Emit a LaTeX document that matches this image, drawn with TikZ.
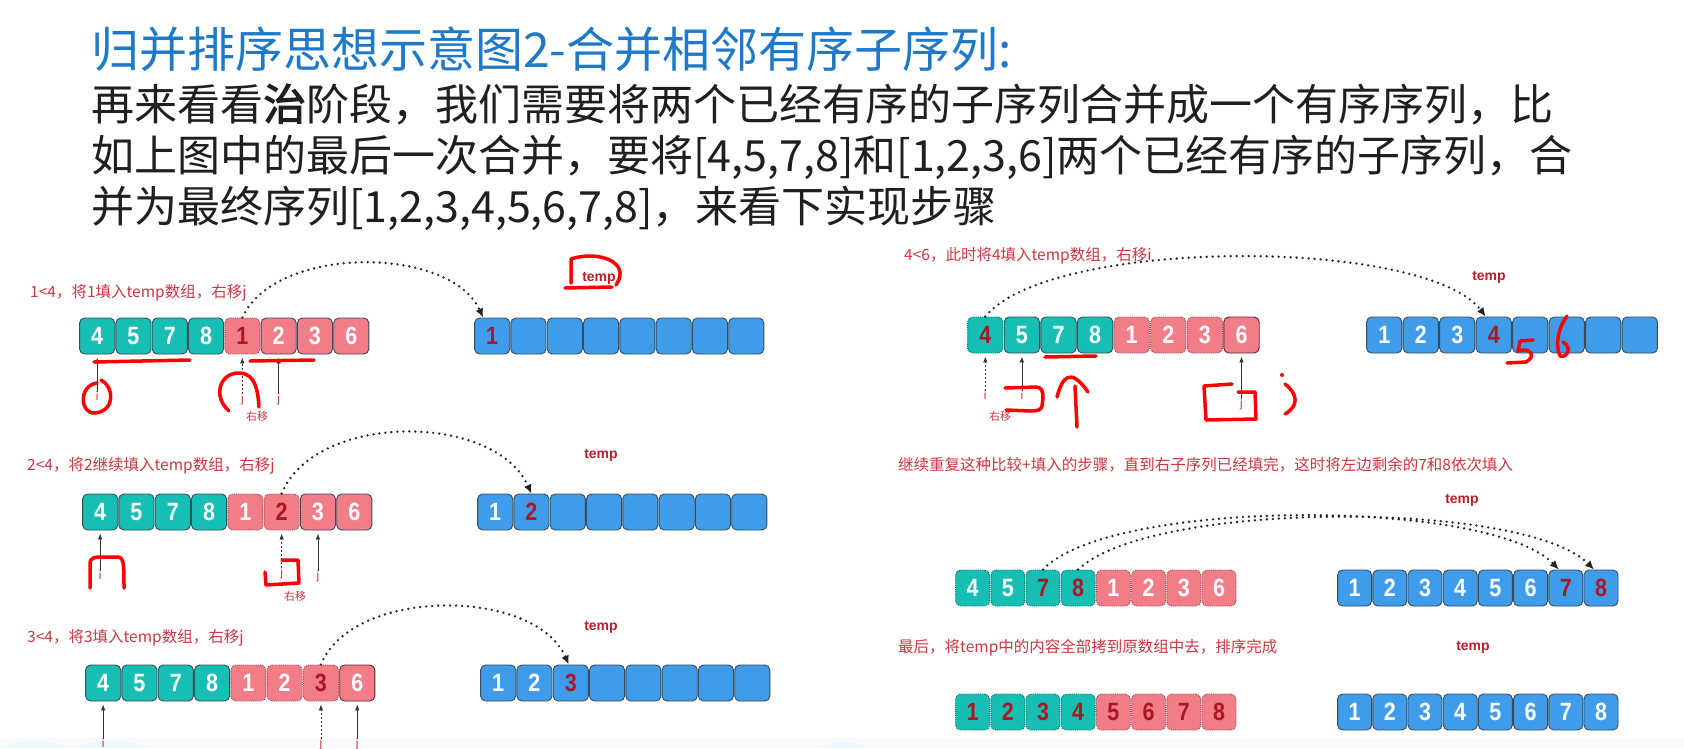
\documentclass[tikz,border=0pt]{standalone}
\usepackage{fontspec}
\newfontfamily\cjk{Noto Sans CJK SC}
\newfontfamily\cjkb[FakeBold=2.5]{Noto Sans CJK SC}
\newfontfamily\lat{Liberation Sans}
\newfontfamily\numf[FakeStretch=0.86]{Liberation Sans}
\usetikzlibrary{arrows.meta}
\definecolor{tealc}{RGB}{22,190,180}
\definecolor{pinkc}{RGB}{242,124,135}
\definecolor{bluec}{RGB}{62,156,234}
\definecolor{numred}{RGB}{170,22,35}
\definecolor{labred}{RGB}{205,55,65}
\definecolor{tmpred}{RGB}{190,30,40}
\definecolor{titleblue}{RGB}{30,122,200}
\definecolor{cellline}{RGB}{60,75,85}
\definecolor{arcc}{RGB}{35,35,35}
\tikzset{
  cell/.style={draw=cellline, line width=0.9pt, rounded corners=5pt, minimum height=36pt,
    inner sep=0pt, text=white, font=\fontsize{25}{25}\numf\bfseries},
  tl/.style={cell, fill=tealc},
  tld/.style={tl, draw=tealc!55!black, densely dotted},
  tlx/.style={tld, text=numred},
  pk/.style={cell, fill=pinkc},
  pkd/.style={pk, draw=pinkc!60!black, densely dotted},
  pkx/.style={pkd, text=numred},
  pkb/.style={pk, draw=pinkc!35!black},
  bl/.style={cell, fill=bluec},
  blx/.style={bl, text=numred},
  lab/.style={anchor=base west, inner sep=0pt, text=labred, font=\fontsize{15.5}{16}\cjk},
  tmp/.style={inner sep=0pt, text=tmpred, font=\fontsize{14}{14}\lat\bfseries},
  arc/.style={draw=arcc, line width=2.6pt, dash pattern=on 0pt off 6pt, line cap=round,
    -{Latex[length=9pt,width=8pt]}},
  ptr/.style={draw=black!80, line width=0.8pt, -{Latex[length=6pt,width=4.5pt]}},
  ptrd/.style={ptr, dash pattern=on 2pt off 2pt},
  plab/.style={inner sep=0pt, anchor=north, text=labred, font=\fontsize{12}{12}\lat},
  pmov/.style={inner sep=0pt, text=labred, font=\fontsize{11}{11}\cjk},
  ink/.style={draw=red, line width=3.5pt, line cap=round, line join=round},
  body/.style={anchor=base west, inner sep=0pt, text=black!88, font=\fontsize{43}{43}\cjk},
}
% #1 prefix, #2 left x, #3 centre y, #4 step, #5 list style/value
\newcommand\cellrow[5]{%
  \foreach \s/\v [count=\k] in {#5} {
    \node[\s, minimum width=#4pt-1.2pt] (#1\k) at ({#2+(\k-0.5)*#4}, #3) {\v};
  }%
}
\begin{document}
\begin{tikzpicture}[x=1pt,y=-1pt]
\useasboundingbox (0,0) rectangle (1684,748);
\fill[white] (0,0) rectangle (1684,748);
% faint slide footer
\fill[black!2] (0,738) rectangle (1684,748);
\fill[cyan!7] (0,748) .. controls (20,739) and (45,739) .. (70,748) -- cycle;
\fill[cyan!7] (72,748) .. controls (95,739) and (125,738) .. (150,748) -- cycle;
\fill[cyan!7] (820,748) .. controls (835,740) and (850,740) .. (866,748) -- cycle;

% ---------- title and text ----------
\node[anchor=base west, inner sep=0pt, text=titleblue, font=\fontsize{48}{48}\cjk] (title) at (91,67)
  {归并排序思想示意图2-合并相邻有序子序列:};
\node[body] (b1) at (91,120) {再来看看{\cjkb 治}阶段，我们需要将两个已经有序的子序列合并成一个有序序列，比};
\node[body] (b2) at (91,171) {如上图中的最后一次合并，要将[4,5,7,8]和[1,2,3,6]两个已经有序的子序列，合};
\node[body] (b3) at (91,222) {并为最终序列[1,2,3,4,5,6,7,8]，来看下实现步骤};

% ---------- panel 1 ----------
\node[lab] (l1) at (30,297) {1<4，将1填入temp数组，右移j};
\node[tmp] (tp1) at (599,278) {temp};
\cellrow{a1-}{79}{336}{36.3}{tl/4,tl/5,tl/7,tl/8,pkx/1,pk/2,pk/3,pk/6}
\cellrow{t1-}{474}{336}{36.3}{blx/1,bl/{},bl/{},bl/{},bl/{},bl/{},bl/{},bl/{}}
\draw[arc] (a1-5.north) .. controls (275,245) and (450,245) .. ([xshift=-9pt]t1-1.north);
\node[plab] (p1i) at (a1-1.south |- 0,392) {i};
\node[plab] (p1j) at (a1-5.south |- 0,394) {j};
\node[plab] (p1k) at (a1-6.south |- 0,394) {j};
\node[pmov] (m1) at (257,416) {右移};
\draw[ptr] (p1i.north) -- ([yshift=-3pt]a1-1.south);
\draw[ptrd] (p1j.north) -- ([yshift=-3pt]a1-5.south);
\draw[ptr] (p1k.north) -- ([yshift=-3pt]a1-6.south);
% red ink
\draw[ink] (94,362) -- (190,360);
\draw[ink] (250,361) -- (314,360);
\draw[ink] (97,383) .. controls (78,386) and (80,414) .. (95,413) .. controls (116,411) and (114,386) .. (101,380);
\draw[ink] (229,411) .. controls (212,396) and (220,372) .. (240,373) .. controls (256,374) and (258,392) .. (259,407);
\draw[ink] (565,288) -- (612,287);
\draw[ink] (571,283) -- (571,259) .. controls (598,250) and (632,262) .. (616,285);

% ---------- panel 2 ----------
\node[lab] (l2) at (27,470) {2<4，将2继续填入temp数组，右移j};
\node[tmp] (tp2) at (601,455) {temp};
\cellrow{a2-}{82}{512}{36.3}{tl/4,tl/5,tl/7,tl/8,pkd/1,pkx/2,pk/3,pk/6}
\cellrow{t2-}{477}{512}{36.3}{bl/1,blx/2,bl/{},bl/{},bl/{},bl/{},bl/{},bl/{}}
\draw[arc] (a2-6.north) .. controls (315,412) and (495,412) .. (t2-2.north);
\node[plab] (p2i) at (a2-1.south |- 0,571) {i};
\node[plab] (p2j) at (a2-6.south |- 0,568) {j};
\node[plab] (p2k) at (a2-7.south |- 0,571) {j};
\node[pmov] (m2) at (295,596) {右移};
\draw[ptr] (p2i.north) -- ([yshift=-3pt]a2-1.south);
\draw[ptrd] (p2j.north) -- ([yshift=-3pt]a2-6.south);
\draw[ptr] (p2k.north) -- ([yshift=-3pt]a2-7.south);
\draw[ink] (90,588) -- (90,564) .. controls (90,557) and (95,557) .. (105,557) -- (117,557) .. controls (124,557) and (124,563) .. (124,588);
\draw[ink] (282,560) -- (298,560) -- (299,583) -- (266,585) -- (265,572);

% ---------- panel 3 ----------
\node[lab] (l3) at (27,642) {3<4，将3填入temp数组，右移j};
\node[tmp] (tp3) at (601,627) {temp};
\cellrow{a3-}{85}{683}{36.3}{tl/4,tl/5,tl/7,tl/8,pkd/1,pkd/2,pkx/3,pkb/6}
\cellrow{t3-}{480}{683}{36.3}{bl/1,bl/2,blx/3,bl/{},bl/{},bl/{},bl/{},bl/{}}
\draw[arc] (a3-7.north) .. controls (352,587) and (535,587) .. ([xshift=-2pt]t3-3.north);
\node[plab] (p3i) at (a3-1.south |- 0,739) {i};
\node[plab] (p3j) at (a3-7.south |- 0,739) {j};
\node[plab] (p3k) at (a3-8.south |- 0,739) {j};
\draw[ptr] (p3i.north) -- ([yshift=-3pt]a3-1.south);
\draw[ptrd] (p3j.north) -- ([yshift=-3pt]a3-7.south);
\draw[ptr] (p3k.north) -- ([yshift=-3pt]a3-8.south);

% ---------- panel 4 ----------
\node[lab] (l4) at (904,260) {4<6，此时将4填入temp数组，右移i};
\node[tmp] (tp4) at (1489,277) {temp};
\cellrow{a4-}{967}{335}{36.6}{tlx/4,tl/5,tl/7,tl/8,pkd/1,pkd/2,pkd/3,pkb/6}
\cellrow{t4-}{1366}{335}{36.5}{bl/1,bl/2,bl/3,blx/4,bl/{},bl/{},bl/{},bl/{}}
\draw[arc] (a4-1.north) .. controls (1050,237) and (1425,237) .. ([xshift=-8pt]t4-4.north);
\node[plab] (p4i) at (a4-1.south |- 0,391) {i};
\node[plab] (p4k) at (a4-2.south |- 0,391) {i};
\node[plab] (p4j) at (a4-8.south |- 0,399) {j};
\node[pmov] (m4) at (1000,416) {右移};
\draw[ptrd] (p4i.north) -- ([yshift=-3pt]a4-1.south);
\draw[ptr] (p4k.north) -- ([yshift=-3pt]a4-2.south);
\draw[ptr] (p4j.north) -- ([yshift=-3pt]a4-8.south);
\draw[ink] (1045,357) -- (1096,356);
\draw[ink] (1057,397) .. controls (1062,378) and (1070,366) .. (1088,392);
\draw[ink] (1075,386) -- (1077,427);
\draw[ink] (1005,388) -- (1036,387) .. controls (1042,387) and (1043,392) .. (1043,398) -- (1042,406) .. controls (1041,410) and (1038,411) .. (1030,411) -- (1006,410);
\draw[ink] (1238,392) -- (1255,392) -- (1256,419) -- (1206,420) -- (1204,386) -- (1232,384);
\fill[red] (1282,375) circle (2pt);
\draw[ink] (1285,384) .. controls (1298,394) and (1299,406) .. (1285,414);
\draw[ink] (1533,340) -- (1520,341) -- (1518,351) .. controls (1530,347) and (1537,356) .. (1526,362) -- (1507,363);
\draw[ink] (1567,316) .. controls (1558,328) and (1555,345) .. (1560,356) .. controls (1568,358) and (1572,347) .. (1563,342);

% ---------- panel 5 ----------
\node[lab] (l5) at (898,470) {继续重复这种比较+填入的步骤，直到右子序列已经填完，这时将左边剩余的7和8依次填入};
\node[tmp] (tp5) at (1462,500) {temp};
\cellrow{a5-}{955}{588}{35.2}{tld/4,tld/5,tlx/7,tlx/8,pkd/1,pkd/2,pkd/3,pkd/6}
\cellrow{t5-}{1337}{588}{35.2}{bl/1,bl/2,bl/3,bl/4,bl/5,bl/6,blx/7,blx/8}
\draw[arc] (a5-3.north) .. controls (1110,498) and (1490,498) .. ([xshift=-7pt]t5-7.north);
\draw[arc] (a5-4.north) .. controls (1150,500) and (1525,500) .. ([xshift=-7pt]t5-8.north);

% ---------- panel 6 ----------
\node[lab] (l6) at (898,652) {最后，将temp中的内容全部拷到原数组中去，排序完成};
\node[tmp] (tp6) at (1473,647) {temp};
\cellrow{a6-}{955}{712}{35.2}{tlx/1,tlx/2,tlx/3,tlx/4,pkx/5,pkx/6,pkx/7,pkx/8}
\cellrow{t6-}{1337}{712}{35.2}{bl/1,bl/2,bl/3,bl/4,bl/5,bl/6,bl/7,bl/8}
\end{tikzpicture}
\end{document}
